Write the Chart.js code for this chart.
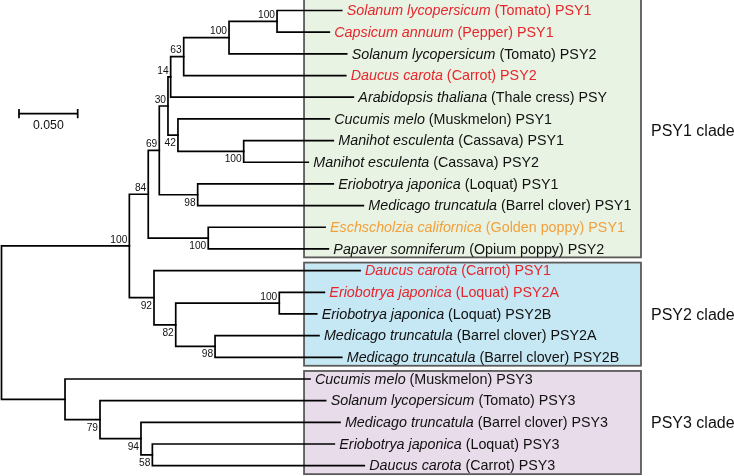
<!DOCTYPE html>
<html><head><meta charset="utf-8">
<script src="https://cdn.jsdelivr.net/npm/chart.js"></script>
<style>html,body{margin:0;padding:0;background:#fff}#wrap{width:734px;height:476px;position:relative}</style>
</head><body><div id="wrap"><canvas id="c"></canvas></div>
<script>
// ---------- data ----------
const leafSpecies = ['Solanum lycopersicum','Capsicum annuum','Solanum lycopersicum','Daucus carota','Arabidopsis thaliana','Cucumis melo','Manihot esculenta','Manihot esculenta','Eriobotrya japonica','Medicago truncatula','Eschscholzia californica','Papaver somniferum','Daucus carota','Eriobotrya japonica','Eriobotrya japonica','Medicago truncatula','Medicago truncatula','Cucumis melo','Solanum lycopersicum','Medicago truncatula','Eriobotrya japonica','Daucus carota'];
const leafSuffix = ['(Tomato) PSY1','(Pepper) PSY1','(Tomato) PSY2','(Carrot) PSY2','(Thale cress) PSY','(Muskmelon) PSY1','(Cassava) PSY1','(Cassava) PSY2','(Loquat) PSY1','(Barrel clover) PSY1','(Golden poppy) PSY1','(Opium poppy) PSY2','(Carrot) PSY1','(Loquat) PSY2A','(Loquat) PSY2B','(Barrel clover) PSY2A','(Barrel clover) PSY2B','(Muskmelon) PSY3','(Tomato) PSY3','(Barrel clover) PSY3','(Loquat) PSY3','(Carrot) PSY3'];
const leafGroup = ['red','red','black','red','black','black','black','black','black','black','orange','black','red','red','black','black','black','black','black','black','black','black'];
// root-to-tip distance of each leaf (substitutions/site)
const leafDepth = [0.2898,0.2792,0.2940,0.2932,0.2997,0.2792,0.2826,0.2613,0.2826,0.3082,0.2756,0.2784,0.3054,0.2750,0.2685,0.2704,0.2898,0.2628,0.2761,0.2883,0.2835,0.3090];
// internal nodes (children listed top to bottom); root-to-node distance; bootstrap
const nodeNames    = ['A','B','C','D','E','F','G','I','H','K','J','O','P','N','M','L','T','S','R','Q','root'];
const nodeChildren = [['L0','L1'],['A','L2'],['B','L3'],['C','L4'],['L6','L7'],['L5','E'],['D','F'],['L8','L9'],['G','I'],['L10','L11'],['H','K'],['L13','L14'],['L15','L16'],['O','P'],['L12','N'],['J','M'],['L20','L21'],['L19','T'],['L18','S'],['L17','R'],['L','Q']];
const nodeDepth    = [0.2347,0.1938,0.1552,0.1441,0.2063,0.1503,0.1418,0.1671,0.1344,0.1761,0.1250,0.2366,0.1819,0.1484,0.1299,0.1089,0.1285,0.1188,0.0839,0.0541,0.0];
const nodeSupport  = ['100','100','63','14','100','42','30','98','69','100','84','100','98','82','92','100','58','94','79','',''];
const supportSide  = ['up','up','up','up','down','down','up','down','up','down','up','up','down','down','down','up','down','down','down','',''];
const cladeNames = ['PSY1 clade','PSY2 clade','PSY3 clade'];
const cladeFirst = [0,12,17];
const cladeLast  = [11,16,21];
const scaleBarValue = 0.05;
const scaleBarLabel = '0.050';

// ---------- layout / style ----------
const PX_PER_UNIT = 1174;
const X_MIN = -1.5 / PX_PER_UNIT, X_MAX = (734 - 1.5) / PX_PER_UNIT;
const Y_MIN = -0.4844, Y_MAX = 21.476;
const colors = { red:'#e6262c', black:'#111111', orange:'#f2a03a' };
const cladeFill = ['#e9f3e4','#c6e7f4','#e8dbea'];
const BOX_LEFT = 0.2577, BOX_RIGHT = 0.5447;
const FONT = '"Liberation Sans", Arial, Helvetica, sans-serif';

// ---------- build tree geometry ----------
const nodeIndex = {}; nodeNames.forEach((n,i)=>nodeIndex[n]=i);
const yCache = {};
function isLeaf(id){ return id[0]==='L' && /^L\d+$/.test(id); }
function depthOf(id){ return isLeaf(id) ? leafDepth[+id.slice(1)] : nodeDepth[nodeIndex[id]]; }
function yOf(id){
  if (isLeaf(id)) return +id.slice(1);
  if (yCache[id] !== undefined) return yCache[id];
  const ch = nodeChildren[nodeIndex[id]];
  const v = (yOf(ch[0]) + yOf(ch[ch.length-1])) / 2;
  yCache[id] = v; return v;
}
const datasets = nodeNames.map((n,i)=>{
  const ch = nodeChildren[i];
  const x = nodeDepth[i];
  const y1 = yOf(ch[0]), y2 = yOf(ch[1]);
  return {
    data: [{x:depthOf(ch[0]),y:y1},{x:x,y:y1},{x:x,y:y2},{x:depthOf(ch[1]),y:y2}],
    showLine:true, borderColor:'#000', borderWidth:1.7, pointRadius:0, fill:false, tension:0,
    borderJoinStyle:'miter', borderCapStyle:'square'
  };
});
// scale bar
const sbX0 = 0.0149, sbY = 4.761, sbTick = 0.215;
datasets.push({data:[{x:sbX0,y:sbY},{x:sbX0+scaleBarValue,y:sbY}],showLine:true,borderColor:'#000',borderWidth:1.7,pointRadius:0});
datasets.push({data:[{x:sbX0,y:sbY-sbTick},{x:sbX0,y:sbY+sbTick}],showLine:true,borderColor:'#000',borderWidth:1.7,pointRadius:0});
datasets.push({data:[{x:sbX0+scaleBarValue,y:sbY-sbTick},{x:sbX0+scaleBarValue,y:sbY+sbTick}],showLine:true,borderColor:'#000',borderWidth:1.7,pointRadius:0});

const treePlugin = {
  id:'tree',
  beforeDatasetsDraw(chart){
    const {ctx, scales:{x, y}} = chart;
    ctx.save();
    cladeNames.forEach((c,i)=>{
      const top = cladeFirst[i] === 0 ? -1 : cladeFirst[i] - 0.37;
      const bot = cladeLast[i] + 0.39;
      const l = x.getPixelForValue(BOX_LEFT), r = x.getPixelForValue(BOX_RIGHT);
      const t = y.getPixelForValue(top), b = Math.min(y.getPixelForValue(bot), 474.5);
      ctx.fillStyle = cladeFill[i];
      ctx.fillRect(l, t, r-l, b-t);
      ctx.strokeStyle = '#5b5b5b'; ctx.lineWidth = 1.8;
      ctx.strokeRect(l, t, r-l, b-t);
    });
    ctx.restore();
  },
  afterDatasetsDraw(chart){
    const {ctx, scales:{x, y}} = chart;
    ctx.save();
    ctx.textBaseline = 'alphabetic';
    // leaf labels
    leafSpecies.forEach((sp,i)=>{
      const px = x.getPixelForValue(leafDepth[i]) + 5;
      const py = y.getPixelForValue(i) + 4.8;
      ctx.fillStyle = colors[leafGroup[i]];
      ctx.font = 'italic 14.3px ' + FONT;
      ctx.textAlign = 'left';
      ctx.fillText(sp, px, py);
      const w = ctx.measureText(sp + ' ').width;
      ctx.font = '14.3px ' + FONT;
      ctx.fillText(leafSuffix[i], px + w, py);
    });
    // bootstrap values
    ctx.font = '10.2px ' + FONT;
    ctx.fillStyle = '#111';
    ctx.textAlign = 'right';
    nodeNames.forEach((n,i)=>{
      if (!nodeSupport[i]) return;
      const px = x.getPixelForValue(nodeDepth[i]) - 2;
      const sy = y.getPixelForValue(yOf(n));
      const py = supportSide[i] === 'up' ? sy - 3.3 : sy + 11;
      ctx.fillText(nodeSupport[i], px, py);
    });
    // clade labels
    ctx.font = '16px ' + FONT;
    ctx.textAlign = 'left';
    cladeNames.forEach((c,i)=>{
      const px = x.getPixelForValue(BOX_RIGHT) + 10;
      const py = y.getPixelForValue((cladeFirst[i]+cladeLast[i])/2) + 5.8;
      ctx.fillText(c, px, py);
    });
    // scale label
    ctx.font = '12.3px ' + FONT;
    ctx.textAlign = 'center';
    ctx.fillText(scaleBarLabel, x.getPixelForValue(sbX0 + scaleBarValue/2), y.getPixelForValue(sbY) + 15.3);
    ctx.restore();
  }
};

new Chart(document.getElementById('c'), {
  type:'scatter',
  data:{datasets},
  options:{
    responsive:true, maintainAspectRatio:false, animation:false,
    layout:{padding:0},
    plugins:{legend:{display:false}, tooltip:{enabled:false}},
    scales:{
      x:{type:'linear', display:false, min:X_MIN, max:X_MAX},
      y:{type:'linear', display:false, reverse:true, min:Y_MIN, max:Y_MAX}
    }
  },
  plugins:[treePlugin]
});
</script></body></html>
